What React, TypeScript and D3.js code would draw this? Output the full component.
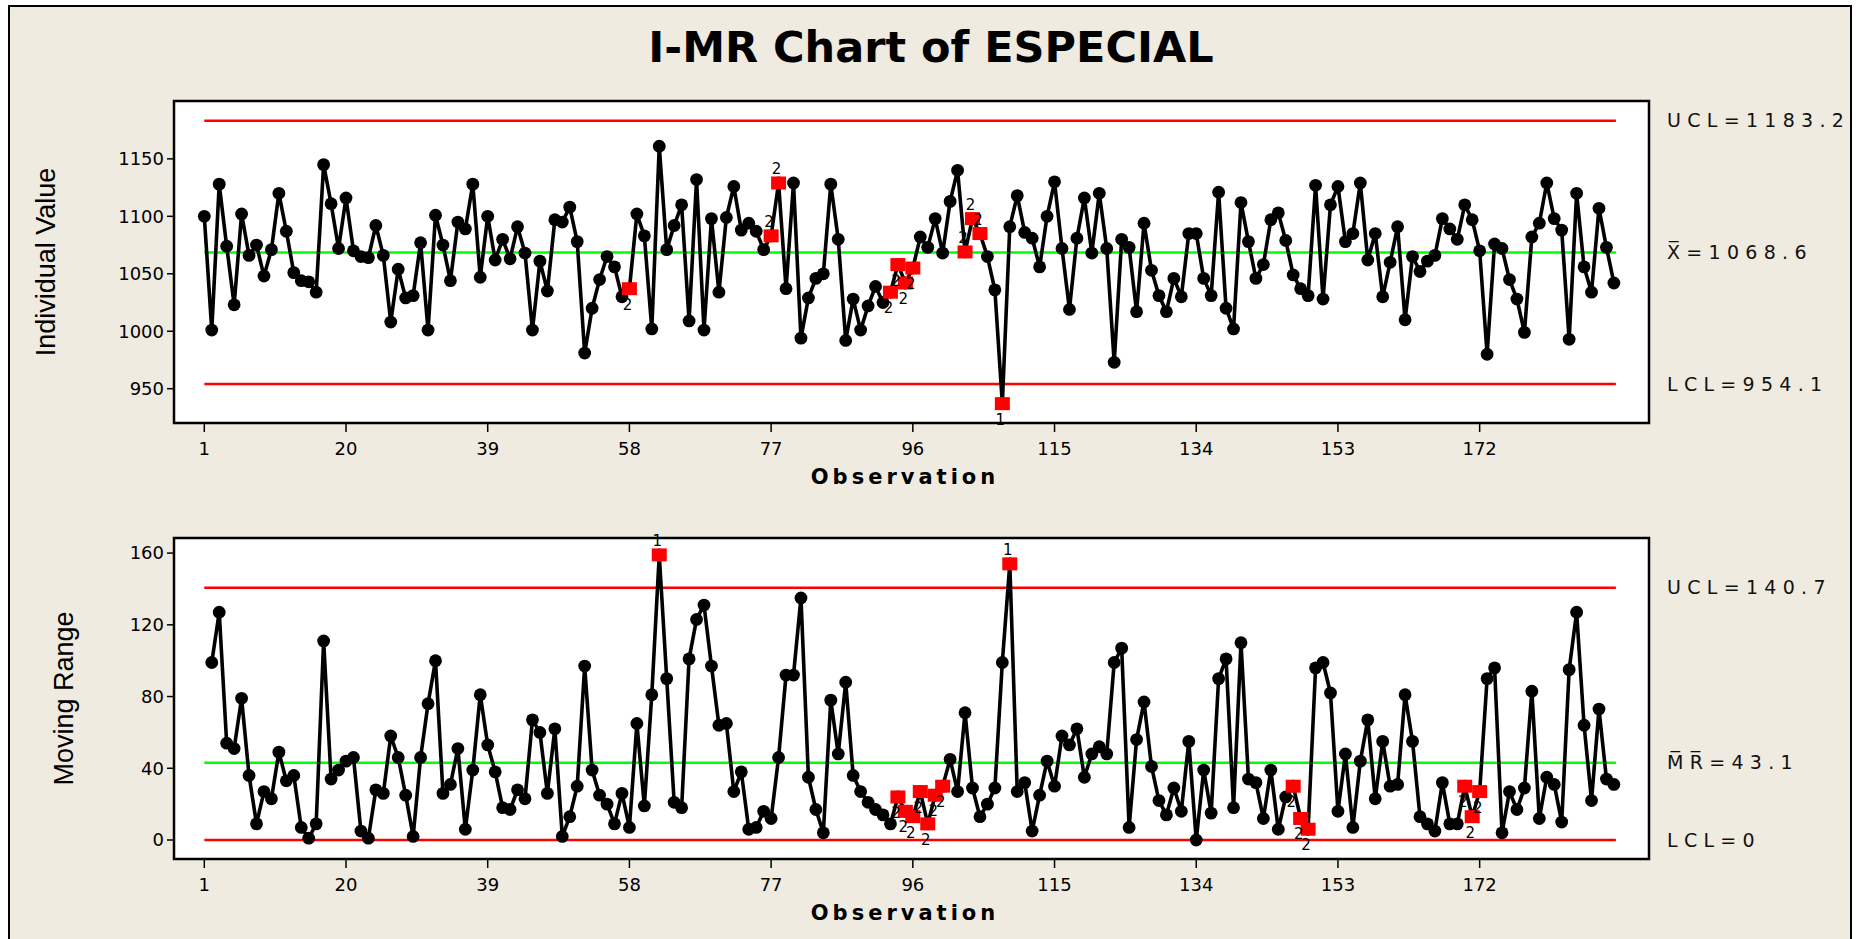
import * as d3 from "d3";

// Individual values, observations 1..190
const individualValues = [
  1100, 1001, 1128, 1074, 1023, 1102, 1066, 1075, 1048, 1071,
  1120, 1087, 1051, 1044, 1043, 1034, 1145, 1111, 1072, 1116,
  1070, 1065, 1064, 1092, 1066, 1008, 1054, 1029, 1031, 1077,
  1001, 1101, 1075, 1044, 1095, 1089, 1128, 1047, 1100, 1062,
  1080, 1063, 1091, 1068, 1001, 1061, 1035, 1097, 1095, 1108,
  1078, 981, 1020, 1045, 1065, 1056, 1030, 1037, 1102, 1083,
  1002, 1161, 1071, 1092, 1110, 1009, 1132, 1001, 1098, 1034,
  1099, 1126, 1088, 1094, 1087, 1071, 1083, 1129, 1037, 1129,
  994, 1029, 1046, 1050, 1128, 1080, 992, 1028, 1001, 1022,
  1039, 1025, 1034, 1058, 1042, 1055, 1082, 1073, 1098, 1068,
  1113, 1140, 1069, 1098, 1085, 1065, 1036, 937, 1091, 1118,
  1086, 1081, 1056, 1100, 1130, 1072, 1019, 1081, 1116, 1068,
  1120, 1072, 973, 1080, 1073, 1017, 1094, 1053, 1031, 1017,
  1046, 1030, 1085, 1085, 1046, 1031, 1121, 1020, 1002, 1112,
  1078, 1046, 1058, 1097, 1103, 1079, 1049, 1037, 1031, 1127,
  1028, 1110, 1126, 1078, 1085, 1129, 1062, 1085, 1030, 1060,
  1091, 1010, 1065, 1052, 1061, 1066, 1098, 1089, 1080, 1110,
  1097, 1070, 980, 1076, 1072, 1045, 1028, 999, 1082, 1094,
  1129, 1098, 1088, 993, 1120, 1056, 1034, 1107, 1073, 1042,
];

// Moving ranges, observations 2..190
const movingRanges = [
  99, 127, 54, 51, 79, 36, 9, 27, 23,
  49, 33, 36, 7, 1, 9, 111, 34, 39, 44,
  46, 5, 1, 28, 26, 58, 46, 25, 2, 46,
  76, 100, 26, 31, 51, 6, 39, 81, 53, 38,
  18, 17, 28, 23, 67, 60, 26, 62, 2, 13,
  30, 97, 39, 25, 20, 9, 26, 7, 65, 19,
  81, 159, 90, 21, 18, 101, 123, 131, 97, 64,
  65, 27, 38, 6, 7, 16, 12, 46, 92, 92,
  135, 35, 17, 4, 78, 48, 88, 36, 27, 21,
  17, 14, 9, 24, 16, 13, 27, 9, 25, 30,
  45, 27, 71, 29, 13, 20, 29, 99, 154, 27,
  32, 5, 25, 44, 30, 58, 53, 62, 35, 48,
  52, 48, 99, 107, 7, 56, 77, 41, 22, 14,
  29, 16, 55, 0, 39, 15, 90, 101, 18, 110,
  34, 32, 12, 39, 6, 24, 30, 12, 6, 96,
  99, 82, 16, 48, 7, 44, 67, 23, 55, 30,
  31, 81, 55, 13, 9, 5, 32, 9, 9, 30,
  13, 27, 90, 96, 4, 27, 17, 29, 83, 12,
  35, 31, 10, 95, 127, 64, 22, 73, 34, 31,
];

const individualFlagObs = [58, 77, 78, 93, 94, 95, 96, 103, 104, 105, 108];
const individualFlagTest = ["2", "2", "2", "2", "2", "2", "2", "2", "2", "2", "1"];
const mrFlagObs = [62, 94, 95, 96, 97, 98, 99, 100, 109, 147, 148, 149, 170, 171, 172];
const mrFlagTest = ["1", "2", "2", "2", "2", "2", "2", "2", "1", "2", "2", "2", "2", "2", "2"];

const xTicks = [1, 20, 39, 58, 77, 96, 115, 134, 153, 172];
const individualTicks = [950, 1000, 1050, 1100, 1150];
const mrTicks = [0, 40, 80, 120, 160];

// UCL, center, LCL
const individualLimits = [1183.2, 1068.6, 954.1];
const individualLimitLabels = ["UCL=1183.2", "X\u0305=1068.6", "LCL=954.1"];
const mrLimits = [140.7, 43.1, 0];
const mrLimitLabels = ["UCL=140.7", "M\u0305R\u0305=43.1", "LCL=0"];

const W = 1856;
const H = 939;
const frameLeft = 174;
const frameRight = 1649;

const x = d3.scaleLinear().domain([1, 190]).range([204.3, 1613.9]);

interface PanelProps {
  top: number;
  bottom: number;
  values: number[];
  firstObs: number;
  y: d3.ScaleLinear<number, number>;
  ticks: number[];
  limits: number[];
  limitLabels: string[];
  flagObs: number[];
  flagTest: string[];
  yLabel: string;
  yLabelX: number;
}

function Panel({ top, bottom, values, firstObs, y, ticks, limits, limitLabels, flagObs, flagTest, yLabel, yLabelX }: PanelProps) {
  const pts = values.map((v, i) => ({ obs: i + firstObs, v }));
  const line = d3.line<{ obs: number; v: number }>().x((d) => x(d.obs)).y((d) => y(d.v));
  const center = limits[1];
  const flagged = flagObs.map((o, i) => ({ obs: o, v: values[o - firstObs], test: flagTest[i] }));

  return (
    <g>
      <rect x={frameLeft} y={top} width={frameRight - frameLeft} height={bottom - top} fill="#ffffff" stroke="#000" strokeWidth={2.5} />

      {/* control limits */}
      {limits.map((l, i) => (
        <line key={i} x1={x(1)} x2={x(190) + 2} y1={y(l)} y2={y(l)} stroke={i === 1 ? "#00ff00" : "#ff0000"} strokeWidth={2.5} />
      ))}

      <path d={line(pts)!} fill="none" stroke="#000" strokeWidth={3.6} strokeLinejoin="round" />
      {pts.map((d) => (
        <circle key={d.obs} cx={x(d.obs)} cy={y(d.v)} r={6.4} fill="#000" />
      ))}

      {flagged.map((d) => (
        <rect key={"f" + d.obs} x={x(d.obs) - 7.5} y={y(d.v) - 6.5} width={15} height={13} fill="#ff0000" />
      ))}
      {flagged.map((d) => (
        <text key={"t" + d.obs} x={x(d.obs) - 2} y={d.v > center ? y(d.v) - 9 : y(d.v) + 21} textAnchor="middle"
          fontFamily="DejaVu Sans, sans-serif" fontSize={15} fill="#000">{d.test}</text>
      ))}

      {/* y axis */}
      {ticks.map((t) => (
        <g key={t}>
          <line x1={frameLeft - 7} x2={frameLeft} y1={y(t)} y2={y(t)} stroke="#000" strokeWidth={1.5} />
          <text x={frameLeft - 10} y={y(t)} dy="0.35em" textAnchor="end" fontFamily="DejaVu Sans, sans-serif" fontSize={18} fill="#000">{t}</text>
        </g>
      ))}

      {/* x axis */}
      {xTicks.map((t) => (
        <g key={t}>
          <line x1={x(t)} x2={x(t)} y1={bottom} y2={bottom + 9} stroke="#000" strokeWidth={1.5} />
          <text x={x(t)} y={bottom + 32} textAnchor="middle" fontFamily="DejaVu Sans, sans-serif" fontSize={18} fill="#000">{t}</text>
        </g>
      ))}
      <text x={905} y={bottom + 61} textAnchor="middle" fontFamily="DejaVu Sans, sans-serif" fontWeight="bold" fontSize={21} letterSpacing={4} fill="#000">Observation</text>

      <text transform={`translate(${yLabelX}, ${(top + bottom) / 2}) rotate(-90)`} textAnchor="middle" dy="0.35em"
        fontFamily="Liberation Sans, Arial, sans-serif" fontSize={27} fill="#000">{yLabel}</text>

      {/* limit labels */}
      {limits.map((l, i) => (
        <text key={i} x={1667} y={y(l)} dy="0.35em" fontFamily="DejaVu Sans, sans-serif" fontSize={19} letterSpacing={6.3} fill="#111">{limitLabels[i]}</text>
      ))}
    </g>
  );
}

export default function App() {
  const yTop = d3.scaleLinear().domain([954.1, 1183.2]).range([384, 120.7]);
  const yBottom = d3.scaleLinear().domain([0, 140.7]).range([840, 587.7]);

  return (
    <svg width={W} height={H} style={{ position: "absolute", left: 0, top: 0, background: "#ffffff" }}>
      <rect x={9} y={6} width={1842} height={H} fill="#efebe0" stroke="#000" strokeWidth={2} />
      <text x={931} y={62} textAnchor="middle" fontFamily="DejaVu Sans, Verdana, sans-serif" fontWeight="bold" fontSize={43} fill="#000">I-MR Chart of ESPECIAL</text>

      <Panel top={101} bottom={423} values={individualValues} firstObs={1} y={yTop} ticks={individualTicks}
        limits={individualLimits} limitLabels={individualLimitLabels} flagObs={individualFlagObs} flagTest={individualFlagTest}
        yLabel="Individual Value" yLabelX={46} />

      <Panel top={538} bottom={859} values={movingRanges} firstObs={2} y={yBottom} ticks={mrTicks}
        limits={mrLimits} limitLabels={mrLimitLabels} flagObs={mrFlagObs} flagTest={mrFlagTest}
        yLabel="Moving Range" yLabelX={64} />
    </svg>
  );
}
